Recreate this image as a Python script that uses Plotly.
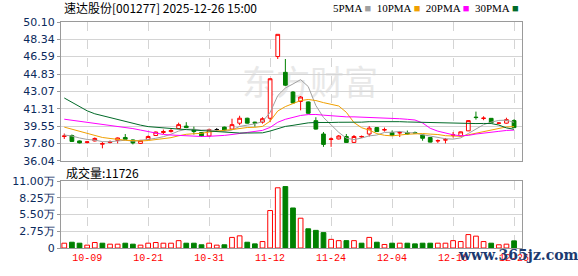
import plotly.graph_objects as go

# ---------------- data ----------------
dates = ["09-26", "09-29", "09-30", "10-09", "10-10", "10-13", "10-14", "10-15", "10-16", "10-17",
         "10-20", "10-21", "10-22", "10-23", "10-24", "10-27", "10-28", "10-29", "10-30", "10-31",
         "11-03", "11-04", "11-05", "11-06", "11-07", "11-10", "11-11", "11-12", "11-13", "11-14",
         "11-17", "11-18", "11-19", "11-20", "11-21", "11-24", "11-25", "11-26", "11-27", "11-28",
         "12-01", "12-02", "12-03", "12-04", "12-05", "12-08", "12-09", "12-10", "12-11", "12-12",
         "12-15", "12-16", "12-17", "12-18", "12-19", "12-22", "12-23", "12-24", "12-25", "12-26"]

open_ = [38.50, 38.60, 38.05, 37.90, 38.05, 37.72, 37.90, 38.10, 38.40, 38.15,
         37.80, 38.20, 38.60, 38.90, 39.00, 39.30, 39.55, 39.20, 38.90, 38.55,
         39.20, 39.45, 39.25, 39.85, 40.35, 39.95, 39.95, 40.35, 46.60, 45.00,
         43.00, 42.05, 42.00, 40.10, 38.75, 38.20, 38.25, 38.50, 37.90, 38.45,
         38.75, 39.40, 39.15, 38.90, 38.85, 38.90, 38.90, 38.65, 38.39, 38.05,
         38.14, 38.62, 38.55, 39.07, 40.46, 40.32, 40.34, 39.84, 39.85, 40.11]
high = [38.80, 38.70, 38.10, 38.05, 38.40, 37.95, 38.10, 38.40, 38.75, 38.20,
        38.15, 38.60, 39.00, 39.20, 39.25, 39.90, 39.95, 39.50, 38.95, 39.30,
        39.35, 39.50, 40.30, 40.60, 40.40, 40.00, 40.45, 44.40, 48.85, 46.35,
        43.10, 42.60, 42.05, 40.45, 38.95, 38.40, 38.65, 38.75, 38.65, 38.60,
        39.55, 39.45, 39.40, 39.10, 39.05, 39.10, 39.00, 38.70, 38.40, 38.20,
        38.35, 38.95, 39.00, 40.15, 41.02, 40.55, 40.36, 39.95, 40.40, 40.25]
low = [38.25, 37.95, 37.80, 37.80, 38.00, 37.30, 37.80, 37.80, 38.20, 37.70,
       37.75, 38.15, 38.55, 38.75, 38.90, 39.25, 39.35, 38.70, 38.50, 38.50,
       39.10, 39.10, 39.20, 39.65, 39.80, 39.50, 39.80, 39.95, 46.35, 43.60,
       41.85, 41.15, 40.80, 39.20, 37.45, 37.45, 38.20, 37.85, 37.85, 38.35,
       38.50, 38.95, 39.00, 38.55, 38.45, 38.70, 38.80, 38.07, 37.90, 37.85,
       37.80, 38.40, 38.50, 39.05, 40.21, 40.15, 39.88, 39.80, 39.80, 39.40]
close = [38.55, 38.00, 37.85, 37.95, 38.30, 37.78, 37.95, 38.35, 38.22, 37.85,
         38.10, 38.50, 38.95, 39.00, 39.10, 39.70, 39.40, 39.00, 38.55, 39.20,
         39.20, 39.15, 39.70, 40.35, 39.85, 39.85, 40.30, 44.35, 48.85, 43.70,
         41.90, 42.50, 40.85, 39.25, 37.70, 38.25, 38.55, 37.90, 38.50, 38.50,
         39.35, 39.00, 39.20, 38.60, 38.90, 38.75, 38.85, 38.32, 37.93, 38.08,
         38.17, 38.66, 38.97, 40.11, 40.42, 40.36, 39.88, 39.86, 40.21, 39.40]

ma5 = [38.65, 38.55, 38.35, 38.20, 38.13, 37.98, 37.97, 38.07, 38.12, 38.03,
       38.09, 38.20, 38.32, 38.48, 38.73, 39.05, 39.23, 39.24, 39.15, 39.17,
       39.07, 39.02, 39.16, 39.52, 39.65, 39.78, 40.01, 40.94, 42.64, 43.41,
       43.82, 44.26, 43.56, 41.63, 40.43, 39.71, 38.92, 38.33, 38.18, 38.34,
       38.56, 38.65, 38.91, 38.93, 39.01, 38.89, 38.86, 38.68, 38.55, 38.39,
       38.27, 38.23, 38.36, 38.80, 39.27, 39.70, 39.95, 40.13, 40.15, 39.94]
ma10 = [39.45, 39.25, 39.00, 38.80, 38.60, 38.40, 38.30, 38.20, 38.12, 38.08,
        38.04, 38.09, 38.20, 38.30, 38.38, 38.57, 38.72, 38.78, 38.82, 38.95,
        39.06, 39.13, 39.20, 39.34, 39.41, 39.43, 39.52, 40.05, 41.08, 41.53,
        41.80, 42.14, 42.25, 42.14, 41.93, 41.77, 41.59, 40.95, 39.91, 39.39,
        39.14, 38.79, 38.62, 38.56, 38.68, 38.73, 38.76, 38.80, 38.74, 38.70,
        38.58, 38.55, 38.52, 38.67, 38.83, 38.99, 39.09, 39.24, 39.47, 39.50]
ma20 = [40.25, 40.15, 40.05, 39.95, 39.85, 39.70, 39.60, 39.50, 39.40, 39.30,
        39.15, 39.00, 38.85, 38.70, 38.65, 38.60, 38.55, 38.52, 38.50, 38.52,
        38.55, 38.61, 38.70, 38.82, 38.90, 39.00, 39.12, 39.42, 39.94, 40.24,
        40.43, 40.63, 40.72, 40.73, 40.66, 40.59, 40.55, 40.49, 40.49, 40.46,
        40.46, 40.46, 40.43, 40.34, 40.30, 40.24, 40.17, 39.87, 39.33, 39.04,
        38.86, 38.67, 38.57, 38.61, 38.75, 38.86, 38.92, 39.02, 39.11, 39.15]
ma30 = [42.40, 41.95, 41.50, 41.10, 40.80, 40.60, 40.40, 40.20, 40.00, 39.85,
        39.65, 39.50, 39.42, 39.36, 39.30, 39.25, 39.20, 39.15, 39.10, 39.00,
        38.95, 38.90, 38.88, 38.85, 38.85, 38.85, 38.87, 39.05, 39.30, 39.52,
        39.63, 39.78, 39.88, 39.92, 39.90, 39.92, 39.94, 39.92, 39.93, 39.95,
        40.00, 40.01, 40.02, 40.01, 40.00, 39.97, 39.95, 39.93, 39.91, 39.87,
        39.84, 39.82, 39.80, 39.79, 39.81, 39.82, 39.81, 39.66, 39.37, 39.23]

volume = [7900, 9500, 7900, 4700, 9000, 7900, 6300, 6300, 7900, 6300,
          4700, 7900, 9000, 7900, 7900, 12100, 7900, 7900, 5300, 7900,
          4700, 5300, 17400, 20000, 9500, 6800, 10600, 61600, 99000, 101000,
          65800, 49000, 31600, 29000, 25300, 14200, 12100, 12100, 12100, 7900,
          17400, 9500, 5800, 7900, 7900, 7900, 6800, 7900, 7900, 7900,
          7900, 12100, 10600, 22100, 19500, 10600, 7900, 5300, 6300, 11726]
vol_dir = [1, -1, -1, 1, 1, -1, 1, 1, -1, -1,
           1, 1, 1, 1, 1, 1, -1, -1, -1, 1,
           1, -1, 1, 1, -1, -1, 1, 1, 1, -1,
           -1, 1, -1, -1, -1, 1, 1, -1, 1, -1,
           1, -1, 1, -1, 1, -1, -1, -1, -1, 1,
           1, 1, 1, 1, 1, 1, -1, 1, 1, -1]

price_ticks = [36.04, 37.80, 39.55, 41.31, 43.07, 44.83, 46.59, 48.34, 50.10]
vol_ticks = [0, 27500, 55000, 82500, 110000]
vol_tick_text = ["0", "2.75万", "5.50万", "8.25万", "11.00万"]
date_ticks = ["10-09", "10-21", "10-31", "11-12", "11-24", "12-04", "12-16", "12-26"]
title_text = "速达股份[001277] 2025-12-26 15:00"
last_volume = 11726

# ---------------- styling ----------------
RED = "#ff0000"
GREEN = "#008000"
AXIS_COL = "#0b2a5c"
GRID = "#d4d4d4"
FRAME = "#9a9a9a"

fig = go.Figure()

def pick(arr, cond):
    return [a if c else None for a, c in zip(arr, cond)]

is_doji = [o == c for o, c in zip(open_, close)]
not_doji = [not d for d in is_doji]

fig.add_trace(go.Candlestick(
    x=dates, open=pick(open_, not_doji), high=pick(high, not_doji),
    low=pick(low, not_doji), close=pick(close, not_doji),
    increasing=dict(line=dict(color=RED, width=1), fillcolor="#ffffff"),
    decreasing=dict(line=dict(color=GREEN, width=1), fillcolor=GREEN),
    whiskerwidth=0, xaxis="x2", yaxis="y2", showlegend=False, hoverinfo="skip"))
fig.add_trace(go.Candlestick(
    x=dates, open=pick(open_, is_doji), high=pick(high, is_doji),
    low=pick(low, is_doji), close=pick(close, is_doji),
    increasing=dict(line=dict(color="#000000", width=1), fillcolor="#000000"),
    decreasing=dict(line=dict(color="#000000", width=1), fillcolor="#000000"),
    whiskerwidth=0, xaxis="x2", yaxis="y2", showlegend=False, hoverinfo="skip"))

ma_styles = [(ma5, "#a0a0a0"), (ma10, "#f0a000"), (ma20, "#ff00ff"), (ma30, "#006a28")]
for vals, col in ma_styles:
    fig.add_trace(go.Scatter(x=dates, y=vals, mode="lines", line=dict(color=col, width=1),
                             xaxis="x2", yaxis="y2", showlegend=False, hoverinfo="skip"))

fig.add_trace(go.Bar(
    x=dates, y=volume, width=0.62,
    marker=dict(color=["#ffffff" if d > 0 else GREEN for d in vol_dir],
                line=dict(color=[RED if d > 0 else GREEN for d in vol_dir], width=1)),
    xaxis="x", yaxis="y", showlegend=False, hoverinfo="skip"))

xrange = [-0.43, len(dates) + 0.04]
common_x = dict(type="category", range=xrange, tickmode="array", tickvals=date_ticks,
                showgrid=True, gridcolor=GRID, griddash="dash", gridwidth=1,
                showline=True, mirror=True, linecolor=FRAME, linewidth=1,
                zeroline=False, fixedrange=True, rangeslider=dict(visible=False))

fig.update_layout(
    width=578, height=276, margin=dict(l=55, r=56, t=22, b=21),
    paper_bgcolor="#ffffff", plot_bgcolor="#ffffff",
    xaxis=dict(**common_x, anchor="y", ticks="", ticklen=0,
               tickfont=dict(family="Liberation Mono", size=10, color=RED)),
    xaxis2=dict(**common_x, anchor="y2", showticklabels=False, ticks="", matches="x"),
    yaxis=dict(domain=[0, 0.296], range=[0, 110000], tickmode="array", tickvals=vol_ticks,
               ticktext=vol_tick_text, showgrid=True, gridcolor=GRID, zeroline=False,
               showline=True, mirror=True, linecolor=FRAME, ticks="outside", ticklen=3,
               tickcolor=FRAME, tickfont=dict(family="DejaVu Sans", size=11, color=AXIS_COL)),
    yaxis2=dict(domain=[0.386, 1], range=[price_ticks[0], price_ticks[-1]], tickmode="array",
                tickvals=price_ticks, ticktext=[f"{v:.2f}" for v in price_ticks],
                showgrid=True, gridcolor=GRID, zeroline=False, showline=True, mirror=True,
                linecolor=FRAME, ticks="outside", ticklen=3, tickcolor=FRAME,
                tickfont=dict(family="DejaVu Sans", size=11, color=AXIS_COL)),
    bargap=0.3,
    shapes=[dict(type="rect", xref="paper", yref="paper", x0=0.28, x1=0.80, y0=0.60, y1=0.84,
                 line=dict(width=0), fillcolor="rgba(0,0,0,0)", layer="below",
                 label=dict(text="东方财富", textposition="middle center",
                            font=dict(family="Noto Sans CJK SC", size=34, color="#e8e8e8")))],
)

legend_html = ("5PMA <span style='color:#a0a0a0'>■</span>  10PMA <span style='color:#f0a000'>■</span>  "
               "20PMA <span style='color:#ff00ff'>■</span>  30PMA <span style='color:#006a28'>■</span>")
fig.add_annotation(xref="paper", yref="paper", x=0.002, y=1.064, xanchor="left", yanchor="middle",
                   text=title_text, showarrow=False,
                   font=dict(family="Noto Sans CJK SC", size=12, color="#000000"))
fig.add_annotation(xref="paper", yref="paper", x=0.792, y=1.064, xanchor="center", yanchor="middle",
                   text=legend_html, showarrow=False,
                   font=dict(family="Liberation Serif", size=11, color="#000000"))
fig.add_annotation(xref="paper", yref="paper", x=0.006, y=0.335, xanchor="left", yanchor="middle",
                   text=f"成交量:{last_volume}", showarrow=False,
                   font=dict(family="Noto Sans CJK SC", size=12, color="#000000"))
fig.add_annotation(xref="paper", yref="paper", x=0.857, y=-0.03, xanchor="left", yanchor="middle",
                   text="<b>www.365jz.com</b>", showarrow=False,
                   font=dict(family="DejaVu Serif", size=14, color="#1c3a70"))

fig.write_html("out.html")
